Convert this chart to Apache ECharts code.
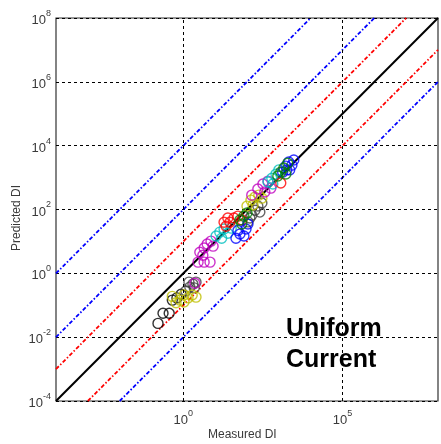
<!DOCTYPE html>
<html><head><meta charset="utf-8">
<script src="https://cdn.jsdelivr.net/npm/echarts@6/dist/echarts.min.js"></script>
<style>html,body{margin:0;padding:0;background:#fff}#c{width:441px;height:444px}</style>
</head><body><div id="c"></div>
<script>
// Measured / predicted DI per group
const blackMeas = [0.16, 0.23, 0.36, 0.45, 0.63, 0.85];
const blackPred = [0.027, 0.056, 0.056, 0.145, 0.17, 0.22];
const grayMeas = [1.2, 1.6, 2.0, 2.5, 1.5, 2.2, 107, 141, 178, 219, 253, 293, 123];
const grayPred = [0.28, 0.37, 0.46, 0.53, 0.53, 0.35, 41, 66, 95, 129, 83, 159, 54];
const yellowMeas = [0.45, 0.59, 0.79, 1.05, 1.4, 1.9, 2.5, 1.05, 100, 133, 178, 235, 293, 155];
const yellowPred = [0.19, 0.12, 0.145, 0.126, 0.17, 0.21, 0.18, 0.21, 128, 196, 245, 282, 227, 138];
const magentaMeas = [2.3, 2.9, 4.5, 6.9, 3.3, 4.5, 5.6, 7.4, 4.1, 8.6, 141, 219, 316, 457, 562, 363];
const magentaPred = [0.49, 2.24, 2.24, 2.24, 4.6, 6.2, 8.3, 10.2, 3.7, 7.1, 282, 437, 631, 776, 468, 355];
const cyanMeas = [10.7, 14, 19, 25, 16, 32, 457, 603, 813, 1000, 646];
const cyanPred = [14.8, 19.5, 24.5, 18, 12.6, 26, 724, 955, 1288, 1738, 631];
const redMeas = [22, 29, 39, 52, 25, 69, 19, 1150];
const redPred = [30, 40, 54, 62, 54, 47, 40, 676];
const blueMeas = [45, 60, 80, 93, 52, 107, 1320, 1660, 2040, 2570, 1780, 2950, 2190];
const bluePred = [12.6, 17, 14.8, 24.5, 22, 35, 1480, 2290, 3090, 2450, 1740, 3550, 1740];
const greenMeas = [60, 80, 100, 69, 930, 1150, 1440, 1660, 1900];
const greenPred = [47, 62, 78, 35, 1120, 1480, 1995, 1290, 2820];

// Ratio lines: predicted = measured * 10^offset
const lineOffsets = [4, 2, 1, 0, -1, -2];
const lineColors = ['#0000ff', '#0000ff', '#ff0000', '#000000', '#ff0000', '#0000ff'];

// Axis range (decades) and labelled ticks
const axisMin = -4, axisMax = 8;
const xLabelExps = [0, 5];
const yLabelExps = [-4, -2, 0, 2, 4, 6, 8];
const xGridExps = [0, 5];

const groups = [
  ['#000000', blackMeas, blackPred],
  ['#404040', grayMeas, grayPred],
  ['#bfbf00', yellowMeas, yellowPred],
  ['#bf00bf', magentaMeas, magentaPred],
  ['#00bfbf', cyanMeas, cyanPred],
  ['#ff0000', redMeas, redPred],
  ['#0000ff', blueMeas, bluePred],
  ['#008000', greenMeas, greenPred]
];

const L = Math.log10;
const supLabel = v => '{b|10}{s|' + v + '}';
const rich = {
  b: {fontFamily: 'Liberation Sans, Arial', fontSize: 13, color: '#3a3a3a', verticalAlign: 'bottom'},
  s: {fontFamily: 'Liberation Sans, Arial', fontSize: 9, color: '#3a3a3a', padding: [0, 0, 9, 0], verticalAlign: 'bottom'}
};

const series = [];
lineOffsets.forEach((k, i) => {
  const x0 = Math.max(axisMin, axisMin - k), x1 = Math.min(axisMax, axisMax - k);
  series.push({
    type: 'line', silent: true, symbol: 'none', z: k === 0 ? 3 : 2,
    data: [[x0, x0 + k], [x1, x1 + k]],
    lineStyle: k === 0 ? {color: '#000', width: 2} : {color: lineColors[i], width: 1.8, type: [4, 2, 1.5, 2]}
  });
});
series.push({
  type: 'line', silent: true, symbol: 'none', data: [],
  markLine: {silent: true, symbol: 'none', label: {show: false},
    lineStyle: {color: '#000', width: 1, type: [3, 3]},
    data: xGridExps.map(v => ({xAxis: v}))}
});
groups.forEach(([c, mx, py]) => {
  series.push({
    type: 'scatter', symbol: 'circle', symbolSize: 10, z: 4,
    itemStyle: {color: 'rgba(0,0,0,0)', borderColor: c, borderWidth: 1.4},
    data: mx.map((m, j) => [L(m), L(py[j])])
  });
});

const chart = echarts.init(document.getElementById('c'), null, {renderer: 'canvas'});
chart.setOption({
  animation: false,
  backgroundColor: '#fff',
  grid: {left: 56, top: 18, right: 3, bottom: 43, show: true, borderColor: '#333', borderWidth: 1.2, backgroundColor: 'transparent'},
  xAxis: {
    type: 'value', min: axisMin, max: axisMax, interval: 1,
    axisLine: {show: false}, axisTick: {show: false}, splitLine: {show: false},
    axisLabel: {margin: 8, rich, formatter: v => xLabelExps.includes(v) ? supLabel(v) : ''}
  },
  yAxis: {
    type: 'value', min: axisMin, max: axisMax, interval: 2,
    axisLine: {show: false}, axisTick: {show: false},
    splitLine: {show: true, lineStyle: {color: '#000', width: 1, type: [3, 3]}},
    axisLabel: {margin: 5, rich, formatter: v => yLabelExps.includes(v) ? supLabel(v) : ''}
  },
  graphic: [
    {type: 'text', left: 208, top: 429, style: {text: 'Measured DI', font: '12px "Liberation Sans", Arial', fill: '#3a3a3a'}},
    {type: 'text', x: 11, y: 218, rotation: Math.PI / 2, style: {text: 'Predicted DI', font: '12px "Liberation Sans", Arial', fill: '#3a3a3a', align: 'center', verticalAlign: 'top'}},
    {type: 'text', left: 286, top: 314, z: 10, style: {text: 'Uniform\nCurrent', font: 'bold 25px "Liberation Sans", Arial', lineHeight: 31, fill: '#000'}}
  ],
  series
});
</script></body></html>
